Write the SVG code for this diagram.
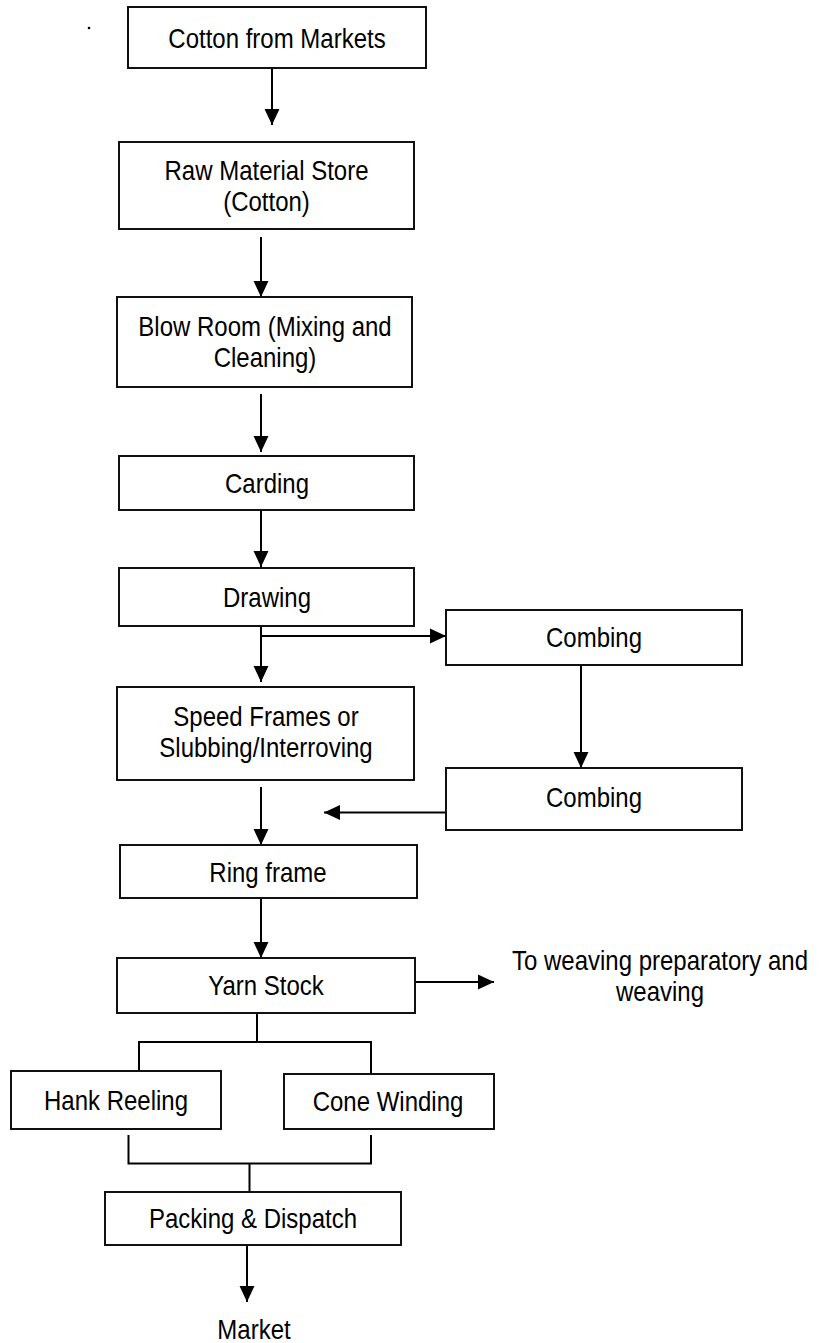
<svg xmlns="http://www.w3.org/2000/svg" width="822" height="1343" viewBox="0 0 822 1343">
  <style>
    .box { fill: #ffffff; stroke: #111111; stroke-width: 2; }
    .wire { fill: none; stroke: #000000; stroke-width: 2; }
    .lbl { font-family: "Liberation Sans", Arial, sans-serif; font-size: 24px; fill: #000000; text-anchor: middle; }
  </style>
  <defs>
    <marker id="head" markerUnits="userSpaceOnUse" markerWidth="16" markerHeight="16" viewBox="0 0 15 14" refX="15" refY="7" orient="auto">
      <path d="M0,0 L15,7 L0,14 Z" fill="#000000"/>
    </marker>
  </defs>
  <rect width="822" height="1343" fill="#ffffff"/>

  <!-- stray full stop in the top-left margin -->
  <circle cx="89" cy="28" r="1.3" fill="#000000"/>

  <!-- connectors -->
  <g id="connectors">
    <line class="wire" x1="272" y1="68" x2="272" y2="125" marker-end="url(#head)"/>
    <line class="wire" x1="261" y1="237" x2="261" y2="297" marker-end="url(#head)"/>
    <line class="wire" x1="261" y1="394" x2="261" y2="452" marker-end="url(#head)"/>
    <line class="wire" x1="261" y1="510" x2="261" y2="567" marker-end="url(#head)"/>
    <line class="wire" x1="261" y1="626" x2="261" y2="682" marker-end="url(#head)"/>
    <line class="wire" x1="261" y1="636" x2="446" y2="636" marker-end="url(#head)"/>
    <line class="wire" x1="581" y1="665" x2="581" y2="768" marker-end="url(#head)"/>
    <line class="wire" x1="446" y1="812.5" x2="324" y2="812.5" marker-end="url(#head)"/>
    <line class="wire" x1="261" y1="787" x2="261" y2="845" marker-end="url(#head)"/>
    <line class="wire" x1="261" y1="898" x2="261" y2="958" marker-end="url(#head)"/>
    <line class="wire" x1="415" y1="982" x2="494" y2="982" marker-end="url(#head)"/>
    <!-- split from Yarn Stock -->
    <path class="wire" d="M257,1013 V1042 M139,1071 V1042 H371 V1074"/>
    <!-- merge into Packing & Dispatch -->
    <path class="wire" d="M128.5,1135 V1163.5 H371 V1135 M249.5,1163.5 V1192"/>
    <line class="wire" x1="247" y1="1245" x2="247" y2="1302" marker-end="url(#head)"/>
  </g>

  <g id="cotton-from-markets">
    <rect class="box" x="128" y="7" width="298" height="61"/>
    <text class="lbl" transform="translate(277,47.5) scale(1,1.12)">Cotton from Markets</text>
  </g>
  <g id="raw-material-store">
    <rect class="box" x="119" y="142" width="295" height="87"/>
    <text class="lbl" transform="translate(266.5,179.5) scale(1,1.12)"><tspan x="0" y="0">Raw Material Store</tspan><tspan x="0" y="27.7">(Cotton)</tspan></text>
  </g>
  <g id="blow-room">
    <rect class="box" x="117" y="297" width="295" height="90"/>
    <text class="lbl" transform="translate(265,336.3) scale(1,1.12)"><tspan x="0" y="0">Blow Room (Mixing and</tspan><tspan x="0" y="27.7">Cleaning)</tspan></text>
  </g>
  <g id="carding">
    <rect class="box" x="119" y="456" width="295" height="54"/>
    <text class="lbl" transform="translate(267,492.6) scale(1,1.12)">Carding</text>
  </g>
  <g id="drawing">
    <rect class="box" x="119" y="568" width="295" height="58"/>
    <text class="lbl" transform="translate(267,606.6) scale(1,1.12)">Drawing</text>
  </g>
  <g id="combing-1">
    <rect class="box" x="446" y="610" width="296" height="55"/>
    <text class="lbl" transform="translate(594,647) scale(1,1.12)">Combing</text>
  </g>
  <g id="speed-frames">
    <rect class="box" x="117" y="687" width="297" height="93"/>
    <text class="lbl" transform="translate(266,726) scale(1,1.12)"><tspan x="0" y="0">Speed Frames or</tspan><tspan x="0" y="27.7">Slubbing/Interroving</tspan></text>
  </g>
  <g id="combing-2">
    <rect class="box" x="446" y="768" width="296" height="62"/>
    <text class="lbl" transform="translate(594,807) scale(1,1.12)">Combing</text>
  </g>
  <g id="ring-frame">
    <rect class="box" x="120" y="845" width="297" height="53"/>
    <text class="lbl" transform="translate(268,882) scale(1,1.12)">Ring frame</text>
  </g>
  <g id="yarn-stock">
    <rect class="box" x="117" y="958" width="298" height="55"/>
    <text class="lbl" transform="translate(266,995) scale(1,1.12)">Yarn Stock</text>
  </g>
  <g id="to-weaving">
    <text class="lbl" transform="translate(660,969.5) scale(1,1.12)"><tspan x="0" y="0">To weaving preparatory and</tspan><tspan x="0" y="27.7">weaving</tspan></text>
  </g>
  <g id="hank-reeling">
    <rect class="box" x="11" y="1071" width="210" height="58"/>
    <text class="lbl" transform="translate(116,1109.6) scale(1,1.12)">Hank Reeling</text>
  </g>
  <g id="cone-winding">
    <rect class="box" x="284" y="1074" width="210" height="55"/>
    <text class="lbl" transform="translate(388,1111) scale(1,1.12)">Cone Winding</text>
  </g>
  <g id="packing-dispatch">
    <rect class="box" x="105" y="1192" width="296" height="53"/>
    <text class="lbl" transform="translate(253,1228) scale(1,1.12)">Packing &amp; Dispatch</text>
  </g>
  <g id="market">
    <text class="lbl" transform="translate(254,1339) scale(1,1.12)">Market</text>
  </g>
</svg>
